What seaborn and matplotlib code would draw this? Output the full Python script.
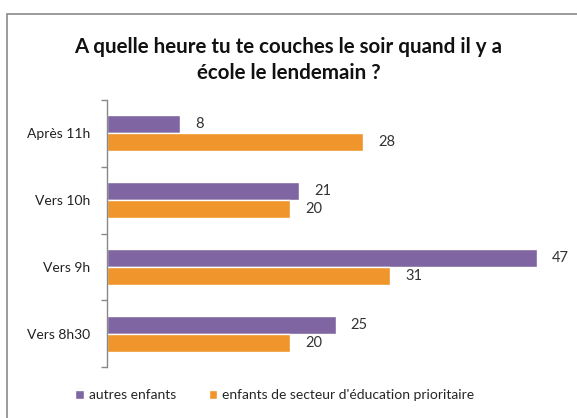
import matplotlib
matplotlib.use("Agg")
import matplotlib.pyplot as plt
import seaborn as sns
import pandas as pd
from matplotlib.patches import Rectangle

categories = ["Après 11h", "Vers 10h", "Vers 9h", "Vers 8h30"]
series = ["autres enfants", "enfants de secteur d'éducation prioritaire"]
autres = [8, 21, 47, 25]
prioritaire = [28, 20, 31, 20]
colors = ["#7F65A1", "#F0952B"]

rows = []
for c, a, p in zip(categories, autres, prioritaire):
    rows.append({"cat": c, "serie": series[0], "val": a})
    rows.append({"cat": c, "serie": series[1], "val": p})
df = pd.DataFrame(rows)

sns.set_theme(style="white")
plt.rcParams["font.family"] = ["Lato", "DejaVu Sans"]

fig = plt.figure(figsize=(5.77, 4.18), dpi=100)
ax = fig.add_axes([107/577, 1-367/418, (564-107)/577, (367-100)/418])

sns.barplot(data=df, y="cat", x="val", hue="serie", order=categories,
            hue_order=series, palette=colors, orient="h", width=0.54,
            saturation=1, ax=ax, legend=True)

for cont in ax.containers:
    ax.bar_label(cont, padding=11, fontsize=10.5, color="#333333")

ax.set_xlim(0, 50)
ax.set_ylim(3.5, -0.5)
ax.set_xlabel("")
ax.set_ylabel("")
ax.set_xticks([])
for s in ["top", "right", "bottom"]:
    ax.spines[s].set_visible(False)
ax.spines["left"].set_color("#888888")
ax.spines["left"].set_linewidth(1)
ax.tick_params(axis="y", length=0, labelsize=10, labelcolor="#222222", pad=12)
ax.set_yticks([-0.5, 0.5, 1.5, 2.5, 3.5], minor=True)
ax.tick_params(axis="y", which="minor", length=4, color="#888888", left=True)

leg = ax.get_legend()
handles, labels = ax.get_legend_handles_labels()
leg.remove()
fig.legend(handles, labels, loc="center", bbox_to_anchor=(275/577, 1-395/418),
           ncol=2, frameon=False, fontsize=10, handlelength=0.6, handleheight=0.6,
           handletextpad=0.4, columnspacing=2.3)

fig.text(0.5, 1-47/418, "A quelle heure tu te couches le soir quand il y a",
         ha="center", va="center", fontsize=14.8, fontweight="bold", color="#111111")
fig.text(0.5, 1-73/418, "école le lendemain ?",
         ha="center", va="center", fontsize=14.8, fontweight="bold", color="#111111")

fig.patches.append(Rectangle((7/577, -0.1), 1.2, 1-14/418+0.1, transform=fig.transFigure,
                             fill=False, edgecolor="#8a8a8a", linewidth=1.2))

fig.savefig("out.png", dpi=100)
